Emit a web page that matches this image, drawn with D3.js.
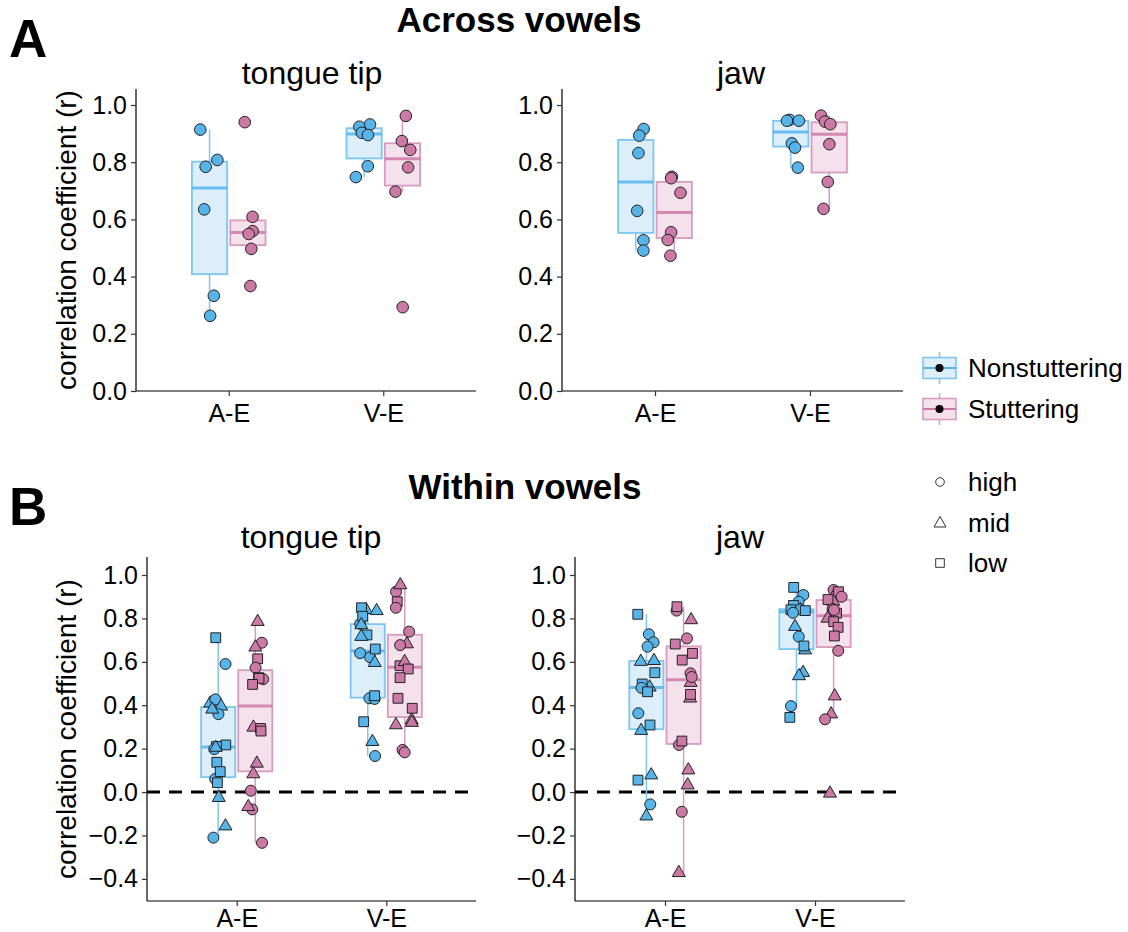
<!DOCTYPE html>
<html><head><meta charset="utf-8">
<script src="https://cdn.jsdelivr.net/npm/d3@7"></script>
<style>body{margin:0;background:#fff} svg{display:block} text{font-family:"Liberation Sans",Arial,Helvetica,sans-serif;fill:#000}</style>
</head><body><svg id="c" width="1128" height="932"></svg>
<script>
// ---------- data ----------
const categories = ["A-E", "V-E"];
const groups = ["Nonstuttering", "Stuttering"];
const vowels = ["high", "mid", "low"];
const yTicksA = [0, 0.2, 0.4, 0.6, 0.8, 1.0];
const yTicksB = [-0.4, -0.2, 0, 0.2, 0.4, 0.6, 0.8, 1.0];

// A: across vowels (one value per speaker)
const acrossTipNS_AE = [0.914, 0.808, 0.784, 0.635, 0.333, 0.263];
const acrossTipS_AE  = [0.940, 0.609, 0.559, 0.549, 0.497, 0.367];
const acrossTipNS_VE = [0.932, 0.924, 0.903, 0.895, 0.786, 0.748];
const acrossTipS_VE  = [0.962, 0.874, 0.843, 0.782, 0.697, 0.293];
const acrossJawNS_AE = [0.916, 0.893, 0.832, 0.630, 0.527, 0.491];
const acrossJawS_AE  = [0.749, 0.744, 0.693, 0.555, 0.528, 0.473];
const acrossJawNS_VE = [0.948, 0.945, 0.945, 0.866, 0.851, 0.781];
const acrossJawS_VE  = [0.963, 0.942, 0.933, 0.863, 0.731, 0.637];

// B: within vowels (per vowel height)
const withinTipNS_AE = {high:[0.590,0.427,0.359,0.198,0.060,-0.210], mid:[0.409,0.395,0.381,0.205,-0.026,-0.157], low:[0.711,0.217,0.210,0.137,0.094,0.043]};
const withinTipS_AE  = {high:[0.688,0.573,0.520,0.006,-0.080,-0.234], mid:[0.785,0.667,0.298,0.132,0.083,-0.068], low:[0.614,0.527,0.524,0.496,0.293,0.281]};
const withinTipNS_VE = {high:[0.775,0.640,0.621,0.432,0.429,0.166], mid:[0.840,0.835,0.770,0.716,0.596,0.232], low:[0.849,0.810,0.724,0.659,0.444,0.324]};
const withinTipS_VE  = {high:[0.923,0.849,0.739,0.677,0.194,0.183], mid:[0.954,0.682,0.600,0.332,0.320,0.309], low:[0.877,0.582,0.567,0.527,0.432,0.386]};
const withinJawNS_AE = {high:[0.727,0.690,0.670,0.480,0.363,-0.057], mid:[0.605,0.601,0.483,0.283,0.078,-0.111], low:[0.819,0.550,0.498,0.462,0.309,0.055]};
const withinJawS_AE  = {high:[0.836,0.708,0.547,0.530,0.217,-0.091], mid:[0.793,0.504,0.432,0.101,0.032,-0.372], low:[0.854,0.682,0.639,0.608,0.450,0.235]};
const withinJawNS_VE = {high:[0.908,0.877,0.841,0.826,0.716,0.396], mid:[0.843,0.838,0.762,0.654,0.550,0.535], low:[0.943,0.860,0.840,0.836,0.673,0.344]};
const withinJawS_VE  = {high:[0.931,0.900,0.843,0.839,0.651,0.335], mid:[0.908,0.878,0.800,0.442,0.359,-0.006], low:[0.923,0.887,0.824,0.785,0.759,0.719]};

// ---------- styles ----------
const fillCol = {Nonstuttering: "#56B4E9", Stuttering: "#CC79A7"};
const boxFill = {Nonstuttering: "#DCEEFA", Stuttering: "#F4E1EC"};
const boxLine = {Nonstuttering: "#7CC6EF", Stuttering: "#D89BC1"};
const FONT = '"Liberation Sans",Arial,Helvetica,sans-serif';

const svg = d3.select("#c");

// deterministic jitter
let seed = 7;
function rnd() { seed = (seed * 16807) % 2147483647; return (seed - 1) / 2147483646; }

function shapePath(shape, r) {
  if (shape === "mid") {
    const s = 13, h = s * Math.sqrt(3) / 2;
    return `M0,${-2*h/3}L${s/2},${h/3}L${-s/2},${h/3}Z`;
  }
  if (shape === "low") { const a = 4.9; return `M${-a},${-a}H${a}V${a}H${-a}Z`; }
  return d3.symbol(d3.symbolCircle, Math.PI * r * r)();
}

function stats(vals) {
  const s = vals.slice().sort(d3.ascending);
  const q1 = d3.quantile(s, 0.25), med = d3.quantile(s, 0.5), q3 = d3.quantile(s, 0.75);
  const iqr = q3 - q1;
  const lo = d3.min(s.filter(v => v >= q1 - 1.5 * iqr));
  const hi = d3.max(s.filter(v => v <= q3 + 1.5 * iqr));
  return {q1, med, q3, lo, hi};
}

function drawPanel(o) {
  const g = svg.append("g");
  const x = d3.scalePoint().domain(categories).range([o.x0, o.x1]).padding(0.6);
  const step = x.step();
  const y = d3.scaleLinear().domain(o.domain).range([o.y1, o.y0]);

  if (o.zero) {
    g.append("line").attr("x1", o.x0).attr("x2", o.x1)
      .attr("y1", y(0)).attr("y2", y(0))
      .attr("stroke", "#000").attr("stroke-width", 3).attr("stroke-dasharray", "13,9");
  }

  const bw = 0.228 * step, off = 0.124 * step;
  o.cells.forEach(c => {
    const cx = x(c.cat) + (c.group === "Nonstuttering" ? -off : off);
    const vals = c.points.map(p => p.v);
    const st = stats(vals);
    const bg = g.append("g");
    bg.append("line").attr("x1", cx).attr("x2", cx).attr("y1", y(st.q3)).attr("y2", y(st.hi))
      .attr("stroke", boxLine[c.group]).attr("stroke-width", 1.5);
    bg.append("line").attr("x1", cx).attr("x2", cx).attr("y1", y(st.q1)).attr("y2", y(st.lo))
      .attr("stroke", boxLine[c.group]).attr("stroke-width", 1.5);
    bg.append("rect").attr("x", cx - bw / 2).attr("width", bw)
      .attr("y", y(st.q3)).attr("height", y(st.q1) - y(st.q3))
      .attr("fill", boxFill[c.group]).attr("stroke", boxLine[c.group]).attr("stroke-width", 1.8);
    bg.append("line").attr("x1", cx - bw / 2).attr("x2", cx + bw / 2).attr("y1", y(st.med)).attr("y2", y(st.med))
      .attr("stroke", fillCol[c.group]).attr("stroke-width", 3).attr("stroke-opacity", 0.85);
    c.points.forEach(p => {
      const jx = cx + (rnd() - 0.5) * 0.12 * step;
      g.append("path").attr("d", shapePath(p.shape, o.r))
        .attr("transform", `translate(${jx},${y(p.v)})`)
        .attr("fill", fillCol[c.group]).attr("stroke", "#222").attr("stroke-width", 1);
    });
  });

  const yAxis = g.append("g").attr("transform", `translate(${o.x0},0)`)
    .call(d3.axisLeft(y).tickValues(o.ticks).tickFormat(d3.format(".1f")).tickSize(5).tickPadding(4));
  const xAxis = g.append("g").attr("transform", `translate(0,${o.y1})`)
    .call(d3.axisBottom(x).tickSize(5).tickPadding(o.xPad));
  [yAxis, xAxis].forEach(a => {
    a.select(".domain").attr("stroke", "#000").attr("stroke-width", 1.2);
    a.selectAll(".tick line").attr("stroke", "#333").attr("stroke-width", 1.2);
    a.selectAll("text").attr("font-family", FONT).attr("font-size", 25).attr("fill", "#000");
  });
  yAxis.select(".domain").attr("d", `M0,${o.y0}V${o.y1}`);
  xAxis.select(".domain").attr("d", `M${o.x0},0H${o.x1}`);

  g.append("text").attr("x", o.titleX).attr("y", o.titleY).attr("text-anchor", "middle")
    .attr("font-size", 32).text(o.title);
  if (o.showY) {
    g.append("text").attr("transform", `translate(66,${(o.y0 + o.y1) / 2}) rotate(-90)`)
      .attr("text-anchor", "middle").attr("dominant-baseline", "central")
      .attr("font-size", 28).text("correlation coefficient (r)");
  }
}

function acrossCells(ns_ae, s_ae, ns_ve, s_ve) {
  const mk = (arr, cat, group) => ({cat, group, points: arr.map(v => ({v, shape: "high"}))});
  return [mk(ns_ae, "A-E", "Nonstuttering"), mk(s_ae, "A-E", "Stuttering"),
          mk(ns_ve, "V-E", "Nonstuttering"), mk(s_ve, "V-E", "Stuttering")];
}
function withinCells(ns_ae, s_ae, ns_ve, s_ve) {
  const mk = (obj, cat, group) => {
    const pts = [];
    for (let i = 0; i < 6; i++) vowels.forEach(vw => pts.push({v: obj[vw][i], shape: vw}));
    return {cat, group, points: pts};
  };
  return [mk(ns_ae, "A-E", "Nonstuttering"), mk(s_ae, "A-E", "Stuttering"),
          mk(ns_ve, "V-E", "Nonstuttering"), mk(s_ve, "V-E", "Stuttering")];
}

// ---------- headings ----------
svg.append("text").attr("x", 9).attr("y", 57).attr("font-size", 53).attr("font-weight", "bold").text("A");
svg.append("text").attr("x", 519).attr("y", 32).attr("text-anchor", "middle").attr("font-size", 35).attr("font-weight", "bold").text("Across vowels");
svg.append("text").attr("x", 9).attr("y", 525).attr("font-size", 53).attr("font-weight", "bold").text("B");
svg.append("text").attr("x", 525).attr("y", 499).attr("text-anchor", "middle").attr("font-size", 35).attr("font-weight", "bold").text("Within vowels");

// ---------- panels ----------
drawPanel({x0: 136, x1: 476, y0: 89, y1: 391, domain: [0, 1.056], ticks: yTicksA, title: "tongue tip", titleX: 312, titleY: 84, showY: true, r: 5.8, xPad: 8,
  cells: acrossCells(acrossTipNS_AE, acrossTipS_AE, acrossTipNS_VE, acrossTipS_VE)});
drawPanel({x0: 562, x1: 903, y0: 89, y1: 391, domain: [0, 1.056], ticks: yTicksA, title: "jaw", titleX: 741, titleY: 84, showY: false, r: 5.8, xPad: 8,
  cells: acrossCells(acrossJawNS_AE, acrossJawS_AE, acrossJawNS_VE, acrossJawS_VE)});
drawPanel({x0: 147, x1: 476, y0: 557, y1: 901, domain: [-0.502, 1.083], ticks: yTicksB, title: "tongue tip", titleX: 311, titleY: 548, showY: true, zero: true, r: 5.5, xPad: 3,
  cells: withinCells(withinTipNS_AE, withinTipS_AE, withinTipNS_VE, withinTipS_VE)});
drawPanel({x0: 575, x1: 905, y0: 557, y1: 901, domain: [-0.502, 1.083], ticks: yTicksB, title: "jaw", titleX: 740, titleY: 548, showY: false, zero: true, r: 5.5, xPad: 3,
  cells: withinCells(withinJawNS_AE, withinJawS_AE, withinJawNS_VE, withinJawS_VE)});

// ---------- legends ----------
const lg = svg.append("g");
groups.forEach((gname, i) => {
  const cy = 368 + i * 41, kx = 923, kw = 33;
  lg.append("line").attr("x1", kx + kw / 2).attr("x2", kx + kw / 2).attr("y1", cy - 16).attr("y2", cy + 16)
    .attr("stroke", boxLine[gname]).attr("stroke-width", 1.5);
  lg.append("rect").attr("x", kx).attr("y", cy - 10.5).attr("width", kw).attr("height", 21)
    .attr("fill", boxFill[gname]).attr("stroke", boxLine[gname]).attr("stroke-width", 1.6);
  lg.append("line").attr("x1", kx).attr("x2", kx + kw).attr("y1", cy).attr("y2", cy)
    .attr("stroke", fillCol[gname]).attr("stroke-width", 2);
  lg.append("circle").attr("cx", kx + kw / 2).attr("cy", cy).attr("r", 4).attr("fill", "#000");
  lg.append("text").attr("x", 968).attr("y", cy + 9).attr("font-size", 26).text(gname);
});
vowels.forEach((vw, i) => {
  const cy = 482 + i * 40.5;
  const p = vw === "high" ? d3.symbol(d3.symbolCircle, Math.PI * 4.3 * 4.3)()
          : vw === "mid" ? "M0,-6L6,4.5L-6,4.5Z" : "M-4.3,-4.3H4.3V4.3H-4.3Z";
  lg.append("path").attr("d", p).attr("transform", `translate(940,${cy})`)
    .attr("fill", "none").attr("stroke", "#333").attr("stroke-width", 1);
  lg.append("text").attr("x", 968).attr("y", cy + 9).attr("font-size", 26).text(vw);
});
</script>
</body></html>
